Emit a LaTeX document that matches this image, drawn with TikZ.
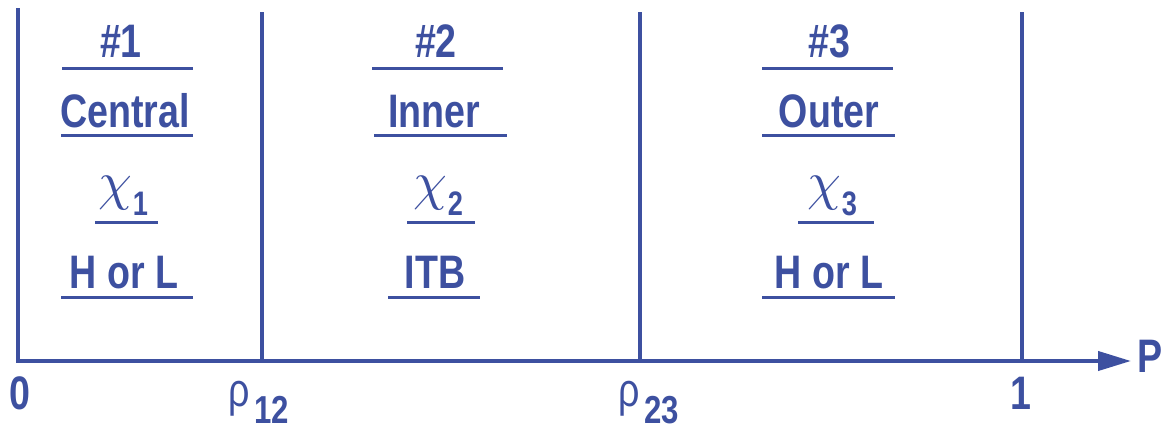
\documentclass[tikz,border=0pt]{standalone}
\usepackage{fontspec}
\usepackage{graphicx}
\setmainfont{Liberation Sans}[FakeStretch=0.8]
\usetikzlibrary{arrows.meta}
\definecolor{navy}{RGB}{61,80,160}
\newcommand\chisub[1]{{\fontsize{10}{12}\selectfont\scalebox{5.4}{$\chi$}}\kern1pt\raisebox{-16pt}{\fontsize{34}{34}\selectfont #1}}
\newcommand\rhosub[1]{{\mdseries ρ}\kern5pt\raisebox{-17pt}{\fontsize{39}{39}\selectfont #1}}
\begin{document}
\begin{tikzpicture}[x=1pt,y=-1pt,
  lab/.style={text=navy,inner sep=0pt,anchor=base,font=\fontsize{47}{50}\selectfont\bfseries},
  uline/.style={draw=navy,line width=3pt},
  frame/.style={draw=navy,line width=4pt},
  axisline/.style={draw=navy,line width=4pt,-{Triangle[length=33pt,width=19pt]}}]
\useasboundingbox (0,0) rectangle (1164,431);
% frame lines
\coordinate (o) at (18,361);
\coordinate (ot) at (18,8);
\coordinate (a) at (262,361);
\coordinate (at) at (262,12);
\coordinate (b) at (640,361);
\coordinate (bt) at (640,12);
\coordinate (c) at (1022,361);
\coordinate (ct) at (1022,12);
\coordinate (axstart) at (16,361);
\coordinate (axend) at (1131,361);
\draw[frame] (ot) -- (o);
\draw[frame] (at) -- (a);
\draw[frame] (bt) -- (b);
\draw[frame] (ct) -- (c);
\draw[axisline] (axstart) -- (axend);
% column 1
\node[lab] (n1) at (121,57) {\#1};
\node[lab] (cen) at (125,127) {Central};
\node[lab] (x1) at (123,199) {\chisub{1}};
\node[lab] (hl1) at (124,288) {H or L};
\draw[uline] (62,68) -- (193,68);
\draw[uline] (61,135) -- (193,135);
\draw[uline] (95,222) -- (158,222);
\draw[uline] (61,297) -- (193,297);
% column 2
\node[lab] (n2) at (436,57) {\#2};
\node[lab] (inn) at (434,127) {Inner};
\node[lab] (x2) at (438,199) {\chisub{2}};
\node[lab] (itb) at (435,288) {ITB};
\draw[uline] (372,68) -- (503,68);
\draw[uline] (374,135) -- (507,135);
\draw[uline] (407,222) -- (475,222);
\draw[uline] (388,297) -- (480,297);
% column 3
\node[lab] (n3) at (829,57) {\#3};
\node[lab] (out) at (829,127) {Outer};
\node[lab] (x3) at (832,199) {\chisub{3}};
\node[lab] (hl3) at (829,288) {H or L};
\draw[uline] (762,68) -- (893,68);
\draw[uline] (762,135) -- (895,135);
\draw[uline] (798,222) -- (874,222);
\draw[uline] (762,297) -- (895,297);
% axis labels
\node[lab] (zero) at (20,409) {0};
\node[lab] (one) at (1021,409) {1};
\node[lab,anchor=base west] (r12) at (228,406) {\rhosub{12}};
\node[lab,anchor=base west] (r23) at (618,406) {\rhosub{23}};
\node[lab] (p) at (1150,372) {P};
\end{tikzpicture}
\end{document}
